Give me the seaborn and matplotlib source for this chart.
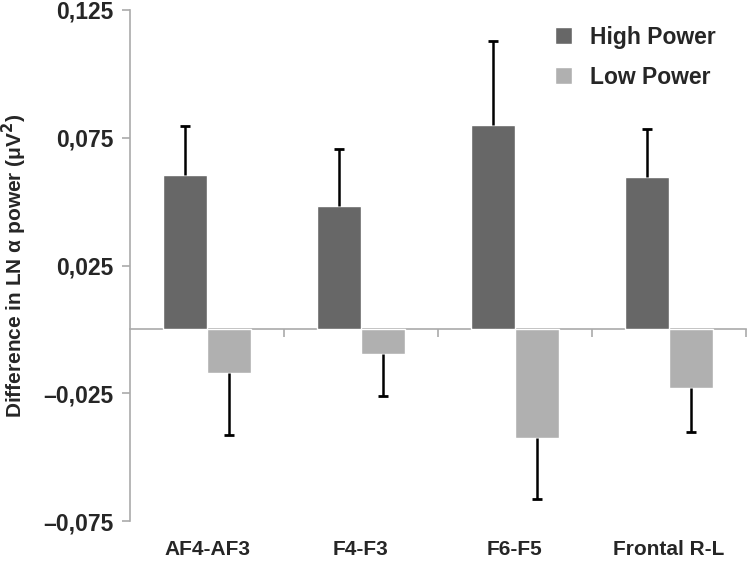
import numpy as np
import pandas as pd
import matplotlib
matplotlib.use("Agg")
import matplotlib.pyplot as plt
import seaborn as sns
from matplotlib.ticker import FuncFormatter

sns.set_style('white')
plt.rcParams['font.family'] = ['Liberation Sans', 'DejaVu Sans']
plt.rcParams['font.weight'] = 'bold'

regions = ["AF4-AF3", "F4-F3", "F6-F5", "Frontal R-L"]
groups = ["High Power", "Low Power"]
high_vals = [0.0605, 0.0483, 0.0800, 0.0597]
high_err = [0.0191, 0.0223, 0.0329, 0.0188]
low_vals = [-0.0170, -0.0096, -0.0425, -0.0229]
low_err = [-0.0243, -0.0164, -0.0238, -0.0172]
colors = ["#676767", "#b0b0b0"]
yticks = [-0.075, -0.025, 0.025, 0.075, 0.125]

df = pd.DataFrame({
    "region": regions * 2,
    "group": [groups[0]] * 4 + [groups[1]] * 4,
    "value": high_vals + low_vals,
})

fig = plt.figure(figsize=(7.53, 5.67), dpi=100)
ax = fig.add_axes([130 / 753, 46 / 567, 616 / 753, 511 / 567])

sns.barplot(data=df, x="region", y="value", hue="group", palette=colors,
            width=0.57, errorbar=None, saturation=1, ax=ax)

# one-sided error bars, pointing away from zero, cap only at the far end
for cont, errs in zip(ax.containers, [high_err, low_err]):
    for bar, e in zip(cont, errs):
        xc = bar.get_x() + bar.get_width() / 2
        y0 = bar.get_y() + bar.get_height() if e > 0 else bar.get_y()
        if bar.get_height() < 0:
            y0 = bar.get_y() + bar.get_height() if e < 0 else bar.get_y()
        ax.plot([xc, xc], [y0, y0 + e], color="black", lw=1.8,
                solid_capstyle="butt")
        ax.plot([xc], [y0 + e], marker="_", ms=7, mew=2, color="black")

ax.set_xlim(-0.5, 3.5)
ax.set_ylim(-0.075, 0.125)
ax.set_yticks(yticks)
ax.yaxis.set_major_formatter(FuncFormatter(
    lambda v, p: ("\u2013" if v < 0 else "") + f"{abs(v):.3f}".replace(".", ",")))

for s in ["top", "right", "bottom"]:
    ax.spines[s].set_visible(False)
ax.spines["left"].set_color("#aaaaaa")
ax.spines["left"].set_linewidth(1.2)
ax.tick_params(axis="y", direction="out", length=6, width=1.2, color="#aaaaaa",
               labelsize=16.5, pad=6, left=True)
ax.tick_params(axis="x", length=0, labelsize=15, pad=14)
for lab in ax.get_xticklabels() + ax.get_yticklabels():
    lab.set_fontweight("bold")

# zero axis with ticks between categories
zax = ax.secondary_xaxis(0, transform=ax.transData)
zax.set_xticks(np.arange(len(regions)) + 0.5)
zax.set_xticklabels([])
zax.spines["bottom"].set_color("#aaaaaa")
zax.spines["bottom"].set_linewidth(1.2)
zax.tick_params(direction="out", length=6, width=1.2, color="#aaaaaa")

ax.set_xlabel("")
ax.set_ylabel("Difference in LN \u03b1 power (\u03bcV$^\\mathbf{2}$)",
              fontsize=15, fontweight="bold", labelpad=10)

ax.legend(frameon=False, loc="upper right", bbox_to_anchor=(0.985, 1.01),
          handlelength=0.75, handleheight=0.75, handletextpad=0.8,
          labelspacing=0.75, prop={"size": 16.5, "weight": "bold"})

fig.savefig("out.png", dpi=100)
